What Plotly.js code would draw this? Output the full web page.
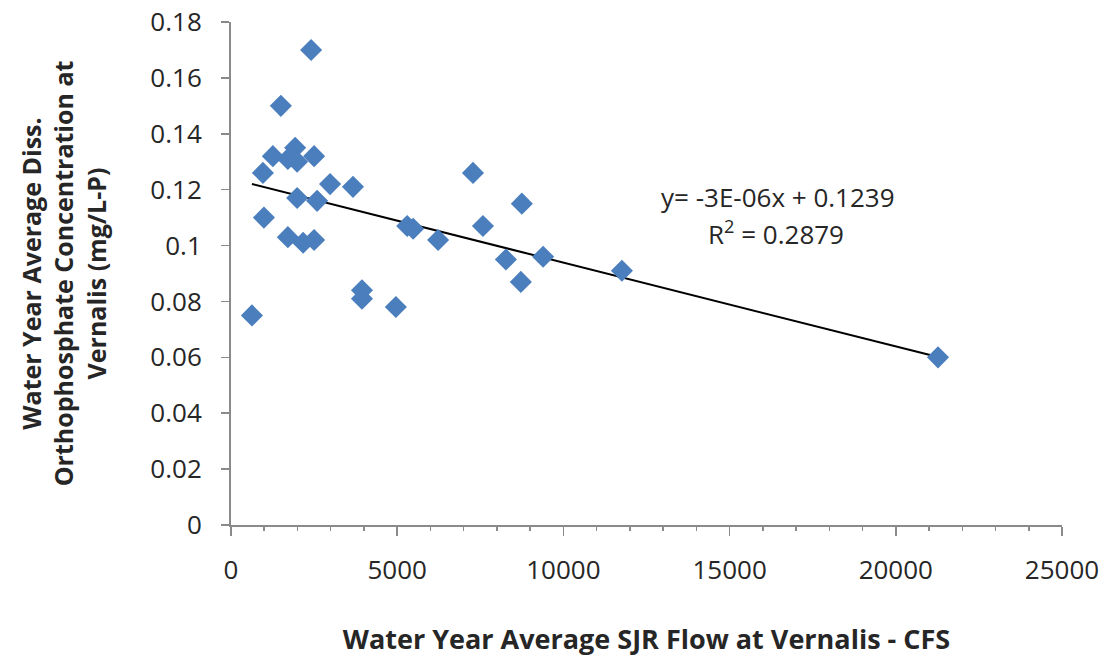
<!DOCTYPE html>
<html>
<head>
<meta charset="utf-8">
<script src="https://cdn.plot.ly/plotly-3.0.1.min.js"></script>
<style>html,body{margin:0;padding:0;background:#fff;}#chart{width:1110px;height:660px;}</style>
</head>
<body>
<div id="chart"></div>
<script>
// Water Year Average SJR Flow at Vernalis (CFS)
const flowCFS = [630, 960, 990, 1260, 1500, 1710, 1930, 1990, 1710, 1990, 2170, 2410, 2500, 2500, 2590, 2980, 3670, 3940, 3940, 4960, 5300, 5480, 6230, 7280, 7580, 8270, 8720, 8750, 9390, 11760, 21270];
// Water Year Average Diss. Orthophosphate at Vernalis (mg/L-P)
const orthoP = [0.075, 0.126, 0.110, 0.132, 0.150, 0.131, 0.135, 0.130, 0.103, 0.117, 0.101, 0.170, 0.132, 0.102, 0.116, 0.122, 0.121, 0.084, 0.081, 0.078, 0.107, 0.106, 0.102, 0.126, 0.107, 0.095, 0.087, 0.115, 0.096, 0.091, 0.060];
// Linear trendline coefficients (as labelled on chart)
const trendSlope = -3e-6;
const trendIntercept = 0.1239;
const trendLabel = "y= -3E-06x + 0.1239";
const r2Label = "R<sup>2</sup> = 0.2879";
// Axis ticks
const yTickVals = [0, 0.02, 0.04, 0.06, 0.08, 0.1, 0.12, 0.14, 0.16, 0.18];
const yTickText = ["0", "0.02", "0.04", "0.06", "0.08", "0.1", "0.12", "0.14", "0.16", "0.18"];
const xTickVals = [0, 5000, 10000, 15000, 20000, 25000];
const xTickText = ["0", "5000", "10000", "15000", "20000", "25000"];

const xMin = Math.min(...flowCFS), xMax = Math.max(...flowCFS);
const trendX = [xMin, xMax];
const trendY = trendX.map(x => trendSlope * x + trendIntercept);

const font = "'Open Sans', Lato, sans-serif";
const axisColor = "#8a8a8a";
const textColor = "#262626";

const data = [
  {
    x: trendX, y: trendY, type: "scatter", mode: "lines",
    line: {color: "#000000", width: 2}, hoverinfo: "skip", showlegend: false
  },
  {
    x: flowCFS, y: orthoP, type: "scatter", mode: "markers",
    marker: {symbol: "diamond", size: 17, color: "#4a7ebd", line: {width: 0}},
    showlegend: false
  }
];

const layout = {
  width: 1110, height: 660,
  margin: {l: 231, r: 48, t: 22, b: 135},
  paper_bgcolor: "#ffffff", plot_bgcolor: "#ffffff",
  font: {family: font, color: textColor},
  xaxis: {
    range: [0, 25000], tickvals: xTickVals, ticktext: xTickText,
    showgrid: false, zeroline: false, showline: true, linecolor: axisColor, linewidth: 2,
    ticks: "outside", ticklen: 9, tickcolor: axisColor, tickwidth: 1.5,
    minor: {dtick: 1000, ticks: "outside", ticklen: 4, tickcolor: axisColor, tickwidth: 1.5},
    tickfont: {family: font, size: 26, color: textColor},
    ticklabelstandoff: 12,
    title: {text: "<b>Water Year Average SJR Flow at Vernalis - CFS</b>", font: {family: font, size: 27, color: textColor}, standoff: 44}
  },
  yaxis: {
    range: [0, 0.18], tickvals: yTickVals, ticktext: yTickText,
    showgrid: false, zeroline: false, showline: true, linecolor: axisColor, linewidth: 2,
    ticks: "outside", ticklen: 8, tickcolor: axisColor, tickwidth: 1.5,
    tickfont: {family: font, size: 26, color: textColor},
    ticklabelstandoff: 14,
    title: {text: "<b>Water Year Average Diss.<br>Orthophosphate Concentration at<br>Vernalis (mg/L-P)</b>", font: {family: font, size: 25, color: textColor}, standoff: 37}
  },
  annotations: [
    {x: 0.6588, y: 0.652, xref: "paper", yref: "paper", text: trendLabel, showarrow: false,
     font: {family: font, size: 26, color: textColor}, xanchor: "center", yanchor: "middle"},
    {x: 0.656, y: 0.5805, xref: "paper", yref: "paper", text: r2Label, showarrow: false,
     font: {family: font, size: 26, color: textColor}, xanchor: "center", yanchor: "middle"}
  ]
};

Plotly.newPlot("chart", data, layout, {displayModeBar: false, staticPlot: true});
</script>
</body>
</html>
